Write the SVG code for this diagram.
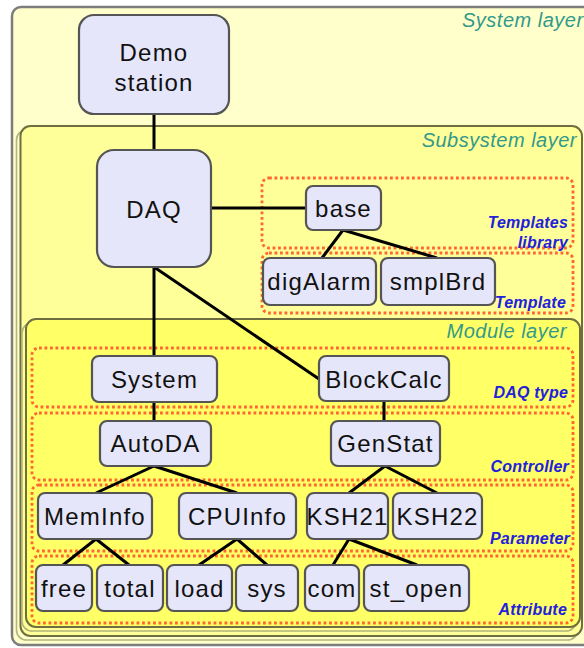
<svg xmlns="http://www.w3.org/2000/svg" width="584" height="648" viewBox="0 0 584 648">
<defs>
<style>
.layer-sys{fill:#ffffcc;stroke:#7d7d7d;stroke-width:2.5}
.layer-sub{fill:#ffff99;stroke:#6e6e40;stroke-width:2}
.layer-mod{fill:#ffff66;stroke:#6e6e40;stroke-width:2}
.shadow{fill:none;stroke:#b4b47c;stroke-width:1.6}
.zone{fill:none;stroke:#ff6633;stroke-width:2.8;stroke-dasharray:2.8 2.7}
.node rect{fill:#e6e6fa;stroke:#555555;stroke-width:2.2}
.node text{font-family:"Liberation Sans",Arial,sans-serif;font-size:24px;letter-spacing:1.2px;fill:#111111;text-anchor:middle}
.lt{font-family:"Liberation Sans",Arial,sans-serif;font-size:20px;font-style:italic;fill:#33998a;letter-spacing:0.5px}
.zt{font-family:"Liberation Sans",Arial,sans-serif;font-size:16px;font-weight:bold;font-style:italic;fill:#2222dd;text-anchor:end;letter-spacing:0.2px}
.conn line{stroke:#000000;stroke-width:3;stroke-linecap:butt}
</style>
</defs>

<g id="system-layer">
<rect class="layer-sys" x="12" y="7" width="620" height="638" rx="9"/>
<text class="lt" x="462" y="27">System layer</text>
</g>

<g id="subsystem-layer">
<rect class="shadow" x="16.5" y="130" width="561" height="510" rx="10"/>
<rect class="layer-sub" x="20.5" y="126" width="561.5" height="510" rx="10"/>
<text class="lt" x="577" y="147" text-anchor="end">Subsystem layer</text>
</g>

<g id="zone-templates-library">
<rect class="zone" x="262" y="178" width="311" height="70" rx="7"/>
<text class="zt" x="568" y="228">Templates</text>
<text class="zt" x="568" y="248">library</text>
</g>
<g id="zone-template">
<rect class="zone" x="262" y="253" width="311" height="60" rx="7"/>
<text class="zt" x="566" y="308">Template</text>
</g>

<g id="module-layer">
<rect class="shadow" x="22" y="323" width="554" height="308" rx="10"/>
<rect class="layer-mod" x="26" y="319" width="554" height="308" rx="10"/>
<text class="lt" x="567" y="338" text-anchor="end">Module layer</text>
</g>

<g id="zone-daq-type">
<rect class="zone" x="32" y="348" width="541" height="59" rx="7"/>
<text class="zt" x="568" y="398">DAQ type</text>
</g>
<g id="zone-controller">
<rect class="zone" x="32" y="413" width="541" height="67" rx="7"/>
<text class="zt" x="569" y="472">Controller</text>
</g>
<g id="zone-parameter">
<rect class="zone" x="32" y="485" width="541" height="66" rx="7"/>
<text class="zt" x="570" y="544">Parameter</text>
</g>
<g id="zone-attribute">
<rect class="zone" x="32" y="556" width="541" height="67" rx="7"/>
<text class="zt" x="567" y="615">Attribute</text>
</g>

<g id="connectors" class="conn">
<line x1="154" y1="114" x2="154" y2="150"/>
<line x1="211" y1="208" x2="306" y2="208"/>
<line x1="154" y1="267" x2="154" y2="356"/>
<line x1="154" y1="267" x2="319" y2="379"/>
<line x1="343" y1="230" x2="322" y2="258"/>
<line x1="343" y1="230" x2="437" y2="258"/>
<line x1="154" y1="402" x2="154" y2="421"/>
<line x1="384" y1="401" x2="384" y2="421"/>
<line x1="154" y1="466" x2="96" y2="493"/>
<line x1="154" y1="466" x2="237" y2="493"/>
<line x1="385" y1="466" x2="349" y2="493"/>
<line x1="385" y1="466" x2="437" y2="493"/>
<line x1="96" y1="539" x2="63" y2="565"/>
<line x1="96" y1="539" x2="129" y2="565"/>
<line x1="237" y1="539" x2="199" y2="565"/>
<line x1="237" y1="539" x2="267" y2="565"/>
<line x1="349" y1="539" x2="333" y2="565"/>
<line x1="349" y1="539" x2="417" y2="565"/>
</g>

<g id="node-demo-station" class="node">
<rect x="79" y="15" width="150" height="99" rx="15"/>
<text x="154" y="61">Demo</text>
<text x="154" y="91">station</text>
</g>
<g id="node-daq" class="node">
<rect x="97" y="150" width="114" height="117" rx="17"/>
<text x="154" y="218">DAQ</text>
</g>
<g id="node-base" class="node">
<rect x="306" y="186" width="75" height="44" rx="7"/>
<text x="343.5" y="217">base</text>
</g>
<g id="node-digalarm" class="node">
<rect x="263" y="258" width="113" height="47" rx="7"/>
<text x="319.5" y="290">digAlarm</text>
</g>
<g id="node-smplbrd" class="node">
<rect x="381" y="258" width="114" height="47" rx="7"/>
<text x="438" y="290">smplBrd</text>
</g>
<g id="node-system" class="node">
<rect x="92" y="356" width="125" height="46" rx="7"/>
<text x="154.5" y="388">System</text>
</g>
<g id="node-blockcalc" class="node">
<rect x="319" y="356" width="130" height="45" rx="7"/>
<text x="384" y="388">BlockCalc</text>
</g>
<g id="node-autoda" class="node">
<rect x="100" y="421" width="111" height="45" rx="7"/>
<text x="155.5" y="452">AutoDA</text>
</g>
<g id="node-genstat" class="node">
<rect x="331" y="421" width="109" height="45" rx="7"/>
<text x="385.5" y="452">GenStat</text>
</g>
<g id="node-meminfo" class="node">
<rect x="38" y="493" width="114" height="46" rx="7"/>
<text x="95" y="525">MemInfo</text>
</g>
<g id="node-cpuinfo" class="node">
<rect x="179" y="493" width="117" height="46" rx="7"/>
<text x="237.5" y="525">CPUInfo</text>
</g>
<g id="node-ksh21" class="node">
<rect x="307" y="493" width="81" height="46" rx="7"/>
<text x="347.5" y="525">KSH21</text>
</g>
<g id="node-ksh22" class="node">
<rect x="393" y="493" width="89" height="46" rx="7"/>
<text x="437.5" y="525">KSH22</text>
</g>
<g id="node-free" class="node">
<rect x="36" y="565" width="56" height="46" rx="7"/>
<text x="64" y="597">free</text>
</g>
<g id="node-total" class="node">
<rect x="97" y="565" width="66" height="46" rx="7"/>
<text x="130" y="597">total</text>
</g>
<g id="node-load" class="node">
<rect x="167" y="565" width="65" height="46" rx="7"/>
<text x="199.5" y="597">load</text>
</g>
<g id="node-sys" class="node">
<rect x="236" y="565" width="62" height="46" rx="7"/>
<text x="267" y="597">sys</text>
</g>
<g id="node-com" class="node">
<rect x="305" y="565" width="54" height="46" rx="7"/>
<text x="332" y="597">com</text>
</g>
<g id="node-st-open" class="node">
<rect x="364" y="565" width="105" height="46" rx="7"/>
<text x="416.5" y="597">st_open</text>
</g>
</svg>
